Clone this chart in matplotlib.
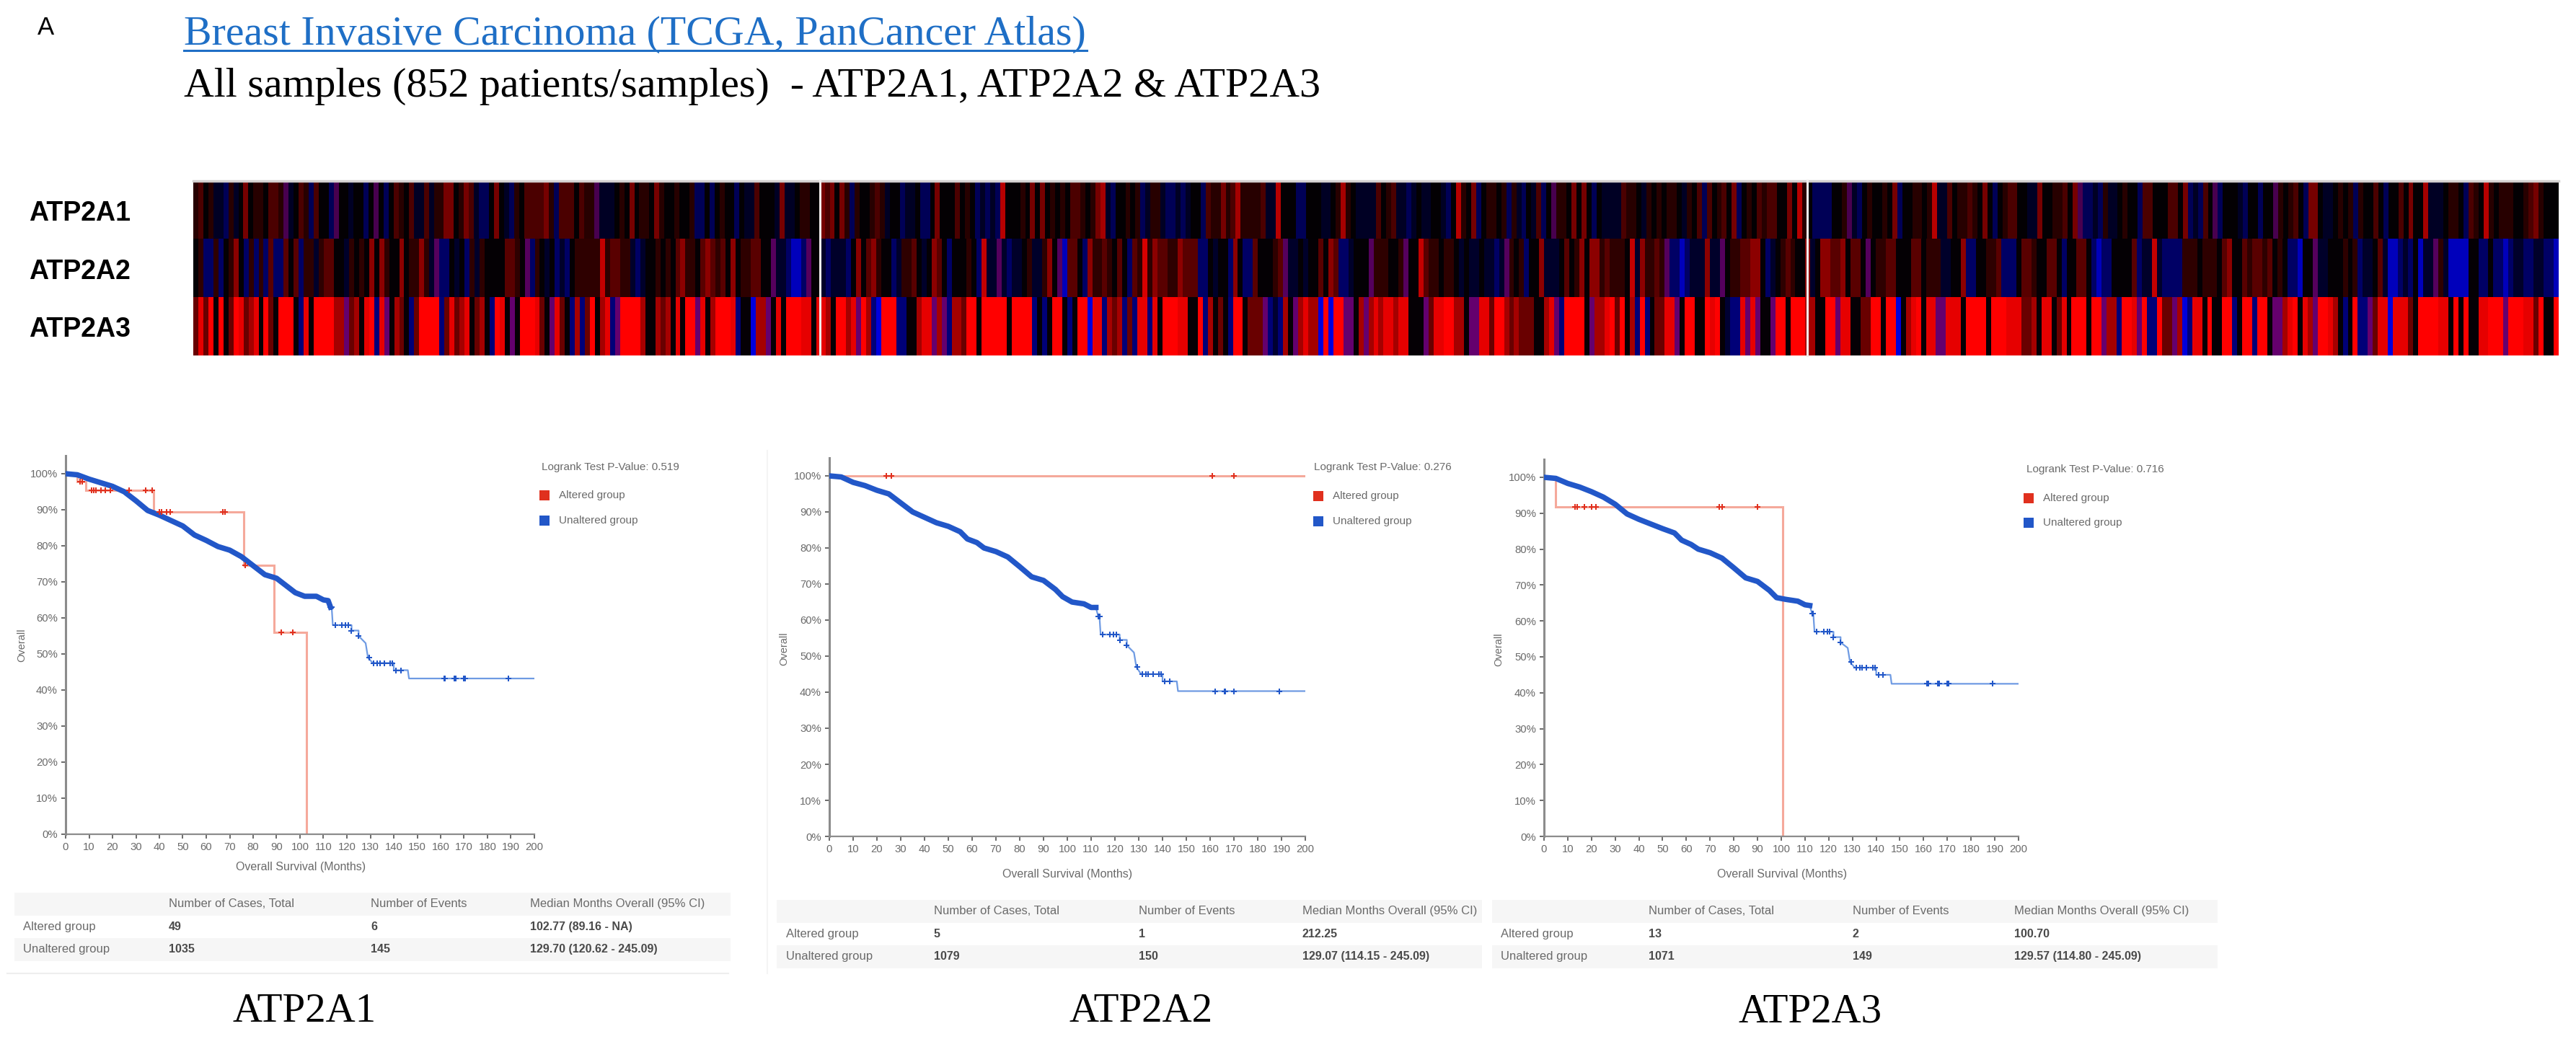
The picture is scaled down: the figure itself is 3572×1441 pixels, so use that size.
import numpy as np
import matplotlib
matplotlib.use('Agg')
import matplotlib.pyplot as plt
from matplotlib.colors import ListedColormap

W, H = 3573, 1441
SANS = ['Liberation Sans', 'DejaVu Sans']
SERIF = ['Liberation Serif', 'DejaVu Serif']

# ---- datos ----
genes = ['ATP2A1', 'ATP2A2', 'ATP2A3']

# niveles del heatmap, un caracter por muestra
niveles = 'BbpnkdmrRF'
colores_nivel = np.array([[0, 0, 220], [0, 0, 120], [100, 0, 110], [0, 0, 50], [5, 0, 5],
                          [55, 0, 0], [105, 0, 0], [165, 0, 0], [230, 0, 0], [255, 0, 0]]) / 255
# ATP2A1 y ATP2A2 se ven mas apagados que ATP2A3
brillo_fila = [0.72, 0.85, 1.0]

heat_a1 = ('dmkdnnbdnkrkddkmmdpnkmdbmkkbpkknkkbkpkbkmdkmnnmnddrrkdrmnbbkrknbdkmmmmr'
           'dbmmmkmddpnnnkdkrkddkrdkkdkkdbbkbkdkkbknnmkkknrnnkddkkrmrkrdbdkkdmdnkk'
           'bnnkbbkrkkkmkdkbnbnbFkkkdkrkrk'
           'dkdkmmdkdrRnbkkdkdbnddnbbnbnkkbmddrdmRddddmnnFkkkbbkkknnkdRdknnnnmkdmn'
           'nbnknnkknbkFdkrbkddkdbdnbknmbk'
           'pddkrkrkbknnnnmddkndkdkddkndkmbmkdmkrbkdkmdmmkkrkFdkbbbbkkdpnbkdkkdkrb'
           'kkddkdFnnmkddmdkrkbkdmmkknnrkk'
           'ddmkrpbbnbdnnkdkkbmmkkkmmkrbnbmkpbkkknbkkbkkpdkdmkbrrknnkdkdbdkkmkbkkmk'
           'rkkRnnnkddkbmdkFdkdddkkdmrdkkk')
heat_a2 = ('kdbbdbkdrkbdbdbmbbmkmbddndmmkkndkdkrkrdkkrkddrdnpbbknkbdndkkkkmmdkpbdkn'
           'kbnbkdddddRdmmddnbnkkdkdkmrddkmrmdmkrkddmmkkpnnbBBbpkknbnnnbkrkmrdkkbn'
           'ddmknkrmkbkkkdkbRnnpnbnnkdnndr'
           'kpBmmkbrddmdkmkbmdFdrmmddrmmmbbknkkbrkbbmkkkdmpnnknkkmkrmbbnkkkpdddkkd'
           'pkkRmddkddknknnknnbnpdkdbkkrnn'
           'nkmkdrkrrdmdddkRnrddmdpbbBbnnnrnnpkddmmrrkbnkdmdkkrnkrrmmrkmmkpkddmmkk'
           'kmmkdddnnkkrbbkkddmbbbkmmdkkmm'
           'kbkkmmkbBbbkkkkmbnnRnbbbbdddkdddkmrkkmdmmdmkdkbbBkkpnnkkkdkdbnnkmnBBbn'
           'bkBnnpdnBBBBkkbbkbbBbnnbbnnbbB')
heat_a3 = ('mRmFkFkmFRmrRkFmkFFFkbRkFFFFrrpmrkRFbRpkrmkbmFFFFbmRmrRkmrkbFRkpkFFFRmk'
           'pRmkbrbmFkrRbpFFFFrkkrmrkRkFFpRkrFFFRbkkBrrpkRkFFFRRkRRrkFFrRpFrbBFFFb'
           'bkkrRRprpbrrmFFkFFFFFkFFFFbkbk'
           'FFkbkFFBRRbrmrbmbRRbRkFFFRRkkFbrkmkbFFkmmmpbnbrkprRrrBFBFFppkrprRrRRrR'
           'RkkkpmRRFFrrkppRRmFFrmrmmmkkrR'
           'pbFFFFkprrRFmFkrbFbkmmRRpkFFkkFRFknbbRpRpkkpFFkFFFrrkkFFpRRkkmmFFkFFBk'
           'rRFkRRppRRRkFFFFkFFFRRRmmrkRRk'
           'mRkFFFkFFprrbFFRpFbbFmmprBbRRkFkkFFbkFFbFFkpprRFkRrpFFRrkbkFbbpmRRBRRR'
           'mkFFFFRRkFkFkkRRFFFpFFFRRmFkkF')

ticks_y = list(range(0, 101, 10))
ticks_x = list(range(0, 201, 10))

# curvas Kaplan-Meier (meses, % supervivencia)
blue_x_a1 = [0, 5, 10, 15, 20, 25, 30, 35, 40, 45, 50, 55, 60, 65, 70, 75, 80, 85, 90, 95, 98, 102, 107, 110, 112,
             113, 113.5, 114, 120, 120, 122, 122, 125, 125, 128, 129, 131, 140, 140, 146, 146.5, 200]
blue_y_a1 = [100, 99.7, 98.5, 97.5, 96.5, 95, 92.5, 89.8, 88.5, 87, 85.5, 83, 81.5, 79.8, 78.8, 77, 74.5, 72, 71, 68.5, 67, 66, 66, 65, 64.8,
             63, 63, 58, 58, 58, 58, 56.5, 56.5, 55, 53, 49, 47.5, 47.5, 45.5, 45.5, 43.2, 43.2]
blue_x_a2 = [0, 5, 10, 15, 20, 25, 30, 35, 40, 45, 50, 55, 58, 62, 65, 70, 75, 80, 85, 90, 95, 98, 102, 107, 110, 112,
             113, 113.5, 114, 120, 120, 122, 122, 125, 125, 128, 129, 131, 140, 140, 146, 146.5, 200]
blue_y_a2 = [100, 99.7, 98.2, 97.3, 96, 95, 92.5, 90, 88.5, 87, 86, 84.5, 82.5, 81.5, 80, 79, 77.5, 74.8, 72, 71, 68.5, 66.5, 65, 64.5, 63.5, 63.5,
             61, 61, 56, 56, 56, 56, 54.5, 54.5, 53, 51, 47, 45, 45, 43, 43, 40.3, 40.3]
blue_x_a3 = [0, 5, 10, 15, 20, 25, 30, 35, 40, 45, 50, 55, 58, 62, 65, 70, 75, 80, 85, 90, 95, 98, 102, 107, 110, 112,
             113, 113.5, 114, 120, 120, 122, 122, 125, 125, 128, 129, 131, 140, 140, 146, 146.5, 200]
blue_y_a3 = [100, 99.7, 98.3, 97.3, 96, 94.5, 92.5, 89.8, 88.3, 87, 85.7, 84.5, 82.5, 81.3, 80, 79, 77.5, 74.8, 72, 71, 68.5, 66.5, 66, 65.5, 64.5, 64.3,
             62, 62, 57, 57, 57, 57, 55.5, 55.5, 54, 52.5, 48.5, 47, 47, 45, 45, 42.5, 42.5]
# puntos hasta donde la curva azul va gruesa
blue_dense = 26

blue_cx_a1 = [113, 113.5, 115, 118, 119.5, 120.5, 122, 125, 129.5, 131.5, 133, 134, 136, 138.5, 139.5, 141, 143, 161.5, 162, 166, 166.5, 170, 170.5, 189]
blue_cy_a1 = [63, 63, 58, 58, 58, 58, 56.5, 55, 49, 47.5, 47.5, 47.5, 47.5, 47.5, 47.5, 45.5, 45.5, 43.2, 43.2, 43.2, 43.2, 43.2, 43.2, 43.2]
blue_cx_a2 = [113, 113.5, 115, 118, 119.5, 120.5, 122, 125, 129.5, 131.5, 133, 134, 136, 138.5, 139.5, 141, 143, 162, 166, 166.5, 170, 189]
blue_cy_a2 = [61, 61, 56, 56, 56, 56, 54.5, 53, 47, 45, 45, 45, 45, 45, 45, 43, 43, 40.3, 40.3, 40.3, 40.3, 40.3]
blue_cx_a3 = [113, 113.5, 115, 118, 119.5, 120.5, 122, 125, 129.5, 131.5, 133, 134, 136, 138.5, 139.5, 141, 143, 161.5, 162, 166, 166.5, 170, 170.5, 189]
blue_cy_a3 = [62, 62, 57, 57, 57, 57, 55.5, 54, 48.5, 47, 47, 47, 47, 47, 47, 45, 45, 42.5, 42.5, 42.5, 42.5, 42.5, 42.5, 42.5]

red_x_a1 = [0, 5, 5, 8.5, 8.5, 37.5, 37.5, 76, 76, 89, 89, 102.8, 102.8]
red_y_a1 = [100, 100, 97.8, 97.8, 95.5, 95.5, 89.5, 89.5, 74.7, 74.7, 56, 56, 0]
red_x_a2 = [0, 200]
red_y_a2 = [100, 100]
red_x_a3 = [0, 5, 5, 100.7, 100.7]
red_y_a3 = [100, 100, 91.7, 91.7, 0]

red_cx_a1 = [6, 7, 11, 12, 13, 15, 17, 19, 27, 34, 37, 40, 41, 43, 44.5, 67, 68, 76.5, 92, 97]
red_cy_a1 = [97.8, 97.8, 95.5, 95.5, 95.5, 95.5, 95.5, 95.5, 95.5, 95.5, 95.5, 89.5, 89.5, 89.5, 89.5, 89.5, 89.5, 74.7, 56, 56]
red_cx_a2 = [24, 26, 161, 170]
red_cy_a2 = [100, 100, 100, 100]
red_cx_a3 = [13, 14, 17, 20, 22, 74, 75, 90]
red_cy_a3 = [91.7, 91.7, 91.7, 91.7, 91.7, 91.7, 91.7, 91.7]

pvalues = ['0.519', '0.276', '0.716']
table_head = ['Number of Cases, Total', 'Number of Events', 'Median Months Overall (95% CI)']
row_names = ['Altered group', 'Unaltered group']
table_a1 = [['49', '6', '102.77 (89.16 - NA)'], ['1035', '145', '129.70 (120.62 - 245.09)']]
table_a2 = [['5', '1', '212.25'], ['1079', '150', '129.07 (114.15 - 245.09)']]
table_a3 = [['13', '2', '100.70'], ['1071', '149', '129.57 (114.80 - 245.09)']]

# ---- figura ----
fig = plt.figure(figsize=(W / 100, H / 100), dpi=100, facecolor='white')
bg = fig.add_axes([0, 0, 1, 1])
bg.axis('off')

GRIS = '#6a6a6a'
ROJO, AZUL = '#e0301e', '#2257c8'
ROJO_L, AZUL_L = '#f5a99b', '#6f9be3'

# titulos
bg.text(52, 38, 'A', family=SANS, fontsize=25, ha='left', va='center', color='black')
bg.text(255, 48, 'Breast Invasive Carcinoma (TCGA, PanCancer Atlas)', family=SERIF, fontsize=41.7,
        color='#1f6fc6', ha='left', va='center')
bg.plot([255, 1507], [70, 70], color='#1f6fc6', lw=2.2)
bg.text(255, 120, 'All samples (852 patients/samples)  - ATP2A1, ATP2A2 & ATP2A3', family=SERIF, fontsize=41.7,
        color='black', ha='left', va='center')

# heatmap
HX0, HX1 = 268, 3548
rows = [heat_a1, heat_a2, heat_a3]
for row, gain, (y0, y1) in zip(rows, brillo_fila, [(252, 331), (331, 412), (412, 493)]):
    vals = np.array([[niveles.index(c) for c in row]])
    cmap = ListedColormap(colores_nivel * gain)
    bg.imshow(vals, cmap=cmap, vmin=-0.5, vmax=9.5, aspect='auto', extent=(HX0, HX1, y1, y0),
              interpolation='nearest')
bg.plot([HX0, HX1], [250.5, 250.5], color='#d4d0d0', lw=2.5)
for xgap in [1137, 2506]:
    bg.plot([xgap, xgap], [250, 493], color='#f2eeee', lw=2.2)
for g, yc in zip(genes, [296, 377, 457]):
    bg.text(40, yc, g, family=SANS, fontsize=27, fontweight='bold', ha='left', va='center')


def panel(box, blue, red, bluec, redc):
    x0, x1, y100, y0 = box
    ytop = y0 - (y0 - y100) * 1.05
    ax = fig.add_axes([x0 / W, 1 - y0 / H, (x1 - x0) / W, (y0 - ytop) / H])
    ax.patch.set_alpha(0)
    ax.plot(red[0], red[1], color=ROJO_L, lw=2.2, solid_joinstyle='miter', zorder=2)
    ax.plot(blue[0], blue[1], color=AZUL_L, lw=1.6, zorder=3)
    ax.plot(blue[0][:blue_dense], blue[1][:blue_dense], color=AZUL, lw=5.4, zorder=4)
    ax.plot(bluec[0], bluec[1], ls='none', marker='P', ms=6, mew=0, color=AZUL, zorder=5)
    ax.plot(redc[0], redc[1], ls='none', marker='P', ms=6, mew=0, color=ROJO, zorder=6)
    ax.set_xlim(0, 200)
    ax.set_ylim(0, 105)
    ax.set_xticks(ticks_x)
    ax.set_yticks(ticks_y)
    ax.set_yticklabels(['%d%%' % t for t in ticks_y])
    ax.tick_params(colors=GRIS, labelsize=10.7, length=4, width=1.4, pad=4, labelfontfamily='Liberation Sans')
    for s in ['top', 'right']:
        ax.spines[s].set_visible(False)
    ax.spines['left'].set_color('#8c8c8c')
    ax.spines['left'].set_linewidth(2.2)
    ax.spines['bottom'].set_color('#8c8c8c')
    ax.spines['bottom'].set_linewidth(1.6)
    return ax


def extras(lab, p, yxl, ylab, leg, tab, cols, data, gene, xgene):
    # eje: texto suelto, legenda y tabla en pixeles
    bg.text(lab[0], yxl, 'Overall Survival (Months)', family=SANS, fontsize=11.5, color=GRIS, ha='center', va='center')
    bg.text(ylab[0], ylab[1], 'Overall', family=SANS, fontsize=10.5, color=GRIS, rotation=90, ha='center', va='center')
    bg.text(leg[0], leg[1], 'Logrank Test P-Value: ' + p, family=SANS, fontsize=11, color=GRIS, ha='left', va='center')
    for name, col, yy in zip(row_names, [ROJO, AZUL], leg[3:]):
        bg.plot([leg[2]], [yy], marker='s', ms=9.5, color=col, mew=0, ls='none')
        bg.text(leg[2] + 20, yy, name, family=SANS, fontsize=11, color=GRIS, ha='left', va='center')
    tx0, tx1, ty = tab
    rowh = 31.5
    for i in [0, 2]:
        bg.fill_between([tx0, tx1], ty + i * rowh, ty + (i + 1) * rowh, color='#f6f6f6', lw=0, zorder=0)
    for c, t in zip(cols[1:], table_head):
        bg.text(c, ty + rowh / 2, t, family=SANS, fontsize=12, color=GRIS, ha='left', va='center')
    for r, name in enumerate(row_names):
        yy = ty + (r + 1.5) * rowh
        bg.text(cols[0], yy, name, family=SANS, fontsize=12, color=GRIS, ha='left', va='center')
        for c, t in zip(cols[1:], data[r]):
            bg.text(c, yy, t, family=SANS, fontsize=11.5, fontweight='bold', color='#4a4a4a', ha='left', va='center')
    bg.text(xgene, 1403, gene, family=SERIF, fontsize=41, color='black', ha='center', va='center')


panel((91, 741, 657, 1157), (blue_x_a1, blue_y_a1), (red_x_a1, red_y_a1), (blue_cx_a1, blue_cy_a1), (red_cx_a1, red_cy_a1))
panel((1150, 1810, 660, 1160), (blue_x_a2, blue_y_a2), (red_x_a2, red_y_a2), (blue_cx_a2, blue_cy_a2), (red_cx_a2, red_cy_a2))
panel((2141, 2799, 662, 1160), (blue_x_a3, blue_y_a3), (red_x_a3, red_y_a3), (blue_cx_a3, blue_cy_a3), (red_cx_a3, red_cy_a3))

extras((417,), pvalues[0], 1203, (30, 895), (751, 648, 755, 687, 722), (20, 1013, 1238), (32, 234, 514, 735), table_a1, genes[0], 422)
extras((1480,), pvalues[1], 1213, (1087, 900), (1822, 648, 1828, 688, 723), (1077, 2055, 1248), (1090, 1295, 1579, 1806), table_a2, genes[1], 1582)
extras((2471,), pvalues[2], 1213, (2078, 901), (2810, 651, 2813, 691, 725), (2069, 3075, 1248), (2081, 2286, 2569, 2793), table_a3, genes[2], 2510)
bg.plot([10, 1010], [1350, 1350], color='#eeeeee', lw=1.5)
bg.plot([1064, 1064], [625, 1350], color='#f4f4f4', lw=1.5)

bg.set_xlim(0, W)
bg.set_ylim(H, 0)

fig.savefig('out.png', dpi=100)
